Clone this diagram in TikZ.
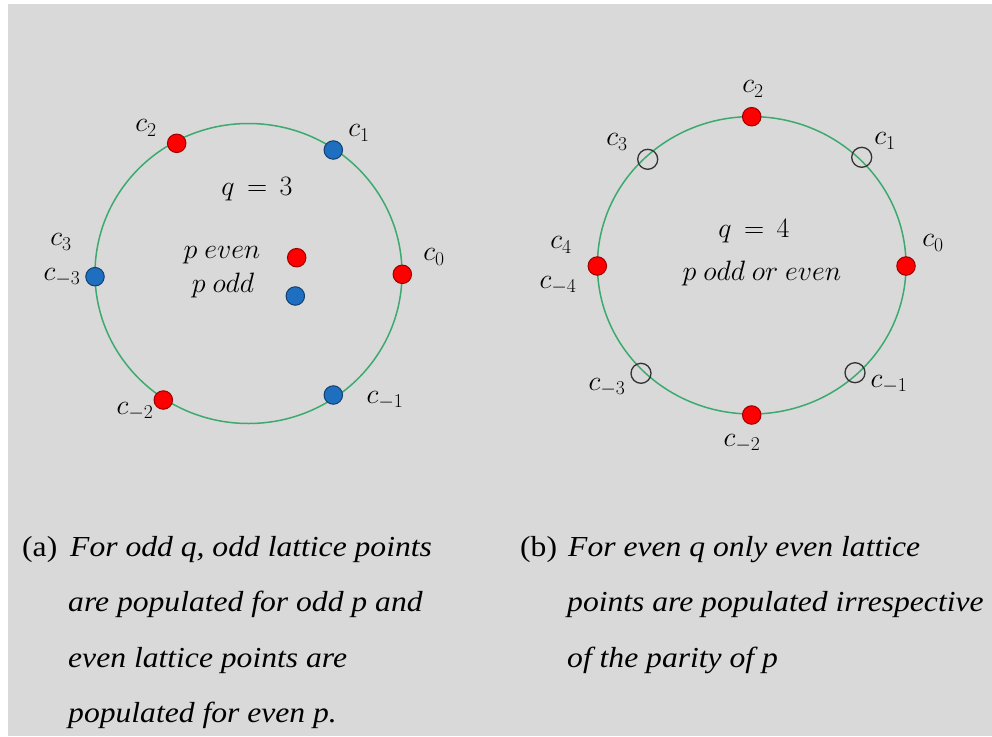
\RequirePackage{fix-cm}
\documentclass[tikz,border=0pt]{standalone}
\usepackage{fontspec}
\setmainfont{Liberation Serif}
\usepackage{graphicx}

\definecolor{bg}{HTML}{D9D9D9}
\definecolor{ring}{RGB}{60,170,110}
\definecolor{dotred}{HTML}{FF0000}
\definecolor{dotredline}{HTML}{9A0000}
\definecolor{dotblue}{HTML}{1F6FC0}
\definecolor{dotblueline}{HTML}{123F6E}

\tikzset{
 reddot/.style={circle, inner sep=0pt, minimum size=18.5pt, fill=dotred, draw=dotredline, line width=1pt},
 bluedot/.style={circle, inner sep=0pt, minimum size=18.5pt, fill=dotblue, draw=dotblueline, line width=1pt},
 opendot/.style={circle, inner sep=0pt, minimum size=20pt, draw=black!80, line width=1.3pt},
 lbl/.style={inner sep=0pt, font=\fontsize{28}{30}\selectfont},
 captxt/.style={anchor=base west, inner sep=0pt, font=\fontsize{29}{32}\selectfont\itshape},
 ringline/.style={draw=ring, line width=1.5pt}
}
\newcommand\capline[1]{\scalebox{1.09}[1]{#1}}

\begin{document}
\begin{tikzpicture}[x=1pt, y=-1pt]
\fill[white] (0,0) rectangle (992,736);
\fill[bg] (8,4) rectangle (992,736);
\useasboundingbox (0,0) rectangle (992,736);

% ---------- left panel (q = 3) ----------
\draw[ringline] (248.5,273.5) ellipse [x radius=153.5pt, y radius=150pt];
\node[reddot]  (La2)  at (176.7,143.3) {};
\node[bluedot] (La1)  at (333.3,150) {};
\node[reddot]  (La0)  at (402.3,274.3) {};
\node[bluedot] (La3)  at (95,276.7) {};
\node[reddot]  (Lam2) at (163.3,400) {};
\node[bluedot] (Lam1) at (333.3,395) {};
\node[reddot]  (Leven) at (296.7,257.7) {};
\node[bluedot] (Lodd)  at (295.3,296) {};

\node[lbl] (ta2)  at (146,128) {$c_2$};
\node[lbl] (ta1)  at (359,133) {$c_1$};
\node[lbl] (ta3)  at (61,242) {$c_3$};
\node[lbl] (tam3) at (62,277) {$c_{-3}$};
\node[lbl] (ta0)  at (434,257) {$c_0$};
\node[lbl] (tam1) at (385,400) {$c_{-1}$};
\node[lbl] (tam2) at (135,411) {$c_{-2}$};
\node[lbl] (tq3)  at (257,189) {$q\,=\,3$};
\node[lbl, anchor=base] (tpe) at (222,258) {$p\ even$};
\node[lbl, anchor=base] (tpo) at (223,292) {$p\ odd$};

% ---------- right panel (q = 4) ----------
\draw[ringline] (751.7,265.3) ellipse [x radius=154.3pt, y radius=148.7pt];
\node[reddot]  (Rb2)  at (751.7,116.7) {};
\node[reddot]  (Rb0)  at (906,266) {};
\node[reddot]  (Rb4)  at (597.3,266) {};
\node[reddot]  (Rbm2) at (751.7,415) {};
\node[opendot] (Rb1)  at (861.7,157.3) {};
\node[opendot] (Rb3)  at (647.7,159.3) {};
\node[opendot] (Rbm3) at (641,373.3) {};
\node[opendot] (Rbm1) at (855,372.7) {};

\node[lbl] (tb2)  at (753,89) {$c_2$};
\node[lbl] (tb1)  at (885,141) {$c_1$};
\node[lbl] (tb3)  at (617,142) {$c_3$};
\node[lbl] (tb4)  at (561,245) {$c_4$};
\node[lbl] (tbm4) at (558,285) {$c_{-4}$};
\node[lbl] (tb0)  at (933,243) {$c_0$};
\node[lbl] (tbm3) at (607,387) {$c_{-3}$};
\node[lbl] (tbm1) at (889,384) {$c_{-1}$};
\node[lbl] (tbm2) at (742,443) {$c_{-2}$};
\node[lbl] (tq4)  at (754,231) {$q\,=\,4$};
\node[lbl, anchor=base] (tpoe) at (762,280) {$p\ odd\ or\ even$};

% ---------- captions ----------
\node[captxt, font=\fontsize{29}{32}\selectfont] (capa) at (22,556) {\capline{(a)}};
\node[captxt] (ca1) at (70,556) {\capline{For odd q, odd lattice points}};
\node[captxt] (ca2) at (68,611) {\capline{are populated for odd p and}};
\node[captxt] (ca3) at (68,667) {\capline{even lattice points are}};
\node[captxt] (ca4) at (68,722) {\capline{populated for even p.}};

\node[captxt, font=\fontsize{29}{32}\selectfont] (capb) at (520,556) {\capline{(b)}};
\node[captxt] (cb1) at (568,556) {\capline{For even q only even lattice}};
\node[captxt] (cb2) at (567,611) {\capline{points are populated irrespective}};
\node[captxt] (cb3) at (567,667) {\capline{of the parity of p}};
\end{tikzpicture}
\end{document}
